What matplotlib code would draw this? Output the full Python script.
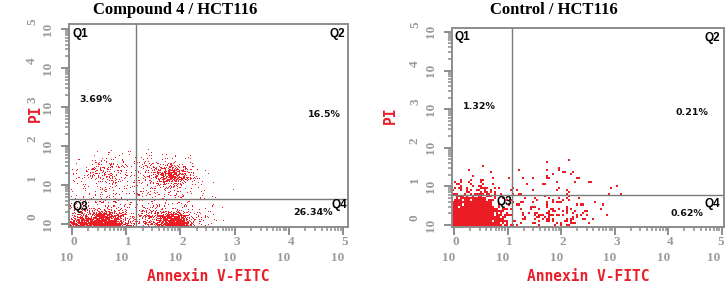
import numpy as np
import matplotlib
matplotlib.use('Agg')
import matplotlib.pyplot as plt
from matplotlib.colors import ListedColormap

# dot density, 0 (empty) .. 9 (solid red)
# columns: Annexin V-FITC decades, rows: PI decades (bottom row first)
x_centres = [0.0, 0.2, 0.4, 0.6, 0.8, 1.0, 1.2, 1.4, 1.6, 1.8, 2.0, 2.2, 2.4, 2.6, 2.8, 3.0, 3.2, 3.4]
y_centres = [0.0, 0.2, 0.4, 0.6, 0.8, 1.0, 1.2, 1.4, 1.6, 1.8]

compound_density = [
    [7, 8, 9, 9, 8, 3, 1.5, 2.5, 5, 9, 9, 3, 0.8, 0.4, 0.1, 0, 0, 0],
    [2, 4, 7, 8, 5, 1.5, 1.5, 2.5, 5, 8, 8, 1.5, 0.4, 0.3, 0.1, 0, 0, 0],
    [0.8, 1, 1.5, 1.5, 1.5, 1, 1, 1.5, 1.5, 2, 1.5, 0.5, 0.3, 0.2, 0, 0, 0, 0],
    [0.4, 0.6, 0.7, 1, 0.7, 0.6, 0.7, 1, 1, 1, 0.8, 0.3, 0.2, 0.1, 0, 0, 0, 0],
    [0.4, 0.4, 0.6, 0.8, 0.7, 0.5, 0.7, 0.8, 1, 1.2, 1, 0.4, 0.2, 0.1, 0, 0, 0, 0],
    [0.4, 0.6, 0.8, 1.2, 1, 0.7, 0.8, 1.2, 2, 3, 3, 0.8, 0.3, 0.2, 0.1, 0, 0, 0],
    [0.4, 0.8, 2, 3, 1.8, 0.8, 0.8, 1.5, 3.5, 8, 6, 1, 0.3, 0.1, 0, 0, 0, 0],
    [0.3, 0.6, 1.8, 2.5, 1.5, 0.6, 0.8, 1.5, 3, 5, 3, 0.5, 0.2, 0, 0, 0, 0, 0],
    [0.1, 0.3, 0.4, 0.6, 0.4, 0.3, 0.4, 0.6, 0.8, 0.8, 0.4, 0.1, 0, 0, 0, 0, 0, 0],
    [0, 0.1, 0.1, 0.2, 0.2, 0.1, 0.1, 0.2, 0.2, 0.2, 0.1, 0, 0, 0, 0, 0, 0, 0],
]

control_density = [
    [9, 9, 9, 9, 8, 4, 1.8, 1.8, 1.8, 2.2, 1.8, 1.2, 0.6, 0.3, 0.1, 0, 0, 0],
    [9, 9, 9, 9, 7, 3, 1.5, 1.5, 1.8, 2.8, 2.8, 1.8, 0.6, 0.3, 0.1, 0, 0, 0],
    [9, 9, 9, 9, 6, 2, 1.2, 1.2, 1.5, 2.2, 2.2, 1.5, 0.6, 0.3, 0.2, 0, 0, 0],
    [6, 8, 9, 7, 3, 1.2, 0.6, 0.6, 0.9, 1.1, 1.1, 0.9, 0.5, 0.3, 0.1, 0.1, 0, 0],
    [2.5, 3.5, 4, 3, 1.5, 0.8, 0.6, 0.6, 0.6, 0.9, 0.9, 0.6, 0.4, 0.3, 0.3, 0.2, 0.1, 0],
    [1, 1.8, 1.8, 1.2, 0.6, 0.4, 0.5, 0.5, 0.6, 0.6, 0.6, 0.5, 0.4, 0.3, 0.2, 0.1, 0, 0],
    [0.1, 0.3, 0.3, 0.3, 0.2, 0.1, 0.3, 0.3, 0.5, 0.6, 0.5, 0.6, 0.4, 0.3, 0.1, 0, 0, 0],
    [0, 0, 0.1, 0.1, 0.1, 0, 0.2, 0.2, 0.3, 0.5, 0.6, 0.5, 0.2, 0.1, 0, 0, 0, 0],
    [0, 0, 0, 0.1, 0.1, 0, 0.1, 0.1, 0.2, 0.2, 0.3, 0.2, 0.1, 0, 0, 0, 0, 0],
    [0, 0, 0, 0, 0, 0, 0, 0, 0, 0, 0, 0, 0, 0, 0, 0, 0, 0],
]

titles = ["Compound 4 / HCT116", "Control / HCT116"]
gates = [(1.18, 0.64), (1.08, 0.78)]      # (Annexin gate, PI gate) in decades
percents = [("3.69%", "16.5%", "26.34%"), ("1.32%", "0.21%", "0.62%")]
decades = [0, 1, 2, 3, 4, 5]

dot_red = '#ec1c24'
label_red = '#e8202a'
grey = '#8c8c8c'
tick_grey = '#9a9a9a'


def dot_raster(density, px_x, px_y, cell):
    """ Turns the density grid into a stippled raster, about one dot per screen pixel """
    d = np.array(density, dtype=float) / 9.0
    xc = np.array(x_centres)
    yc = np.array(y_centres)
    step_x = cell / px_x
    step_y = cell / px_y
    xs = np.arange(xc[0] - 0.12, xc[-1] + 0.1, step_x)
    ys = np.arange(yc[0] - 0.12, yc[-1] + 0.1, step_y)
    rows = np.array([np.interp(xs, xc, r) for r in d])
    fine = np.array([np.interp(ys, yc, c) for c in rows.T]).T
    j, i = np.mgrid[0:len(ys), 0:len(xs)]
    # dither threshold from a fixed hash of the pixel index
    mask = np.modf(np.abs(np.sin(12.9898 * i + 78.233 * j)) * 43758.5453)[0]
    img = (fine > mask).astype(float)
    extent = [xs[0], xs[-1] + step_x, ys[0], ys[-1] + step_y]
    return img, extent


def style_axes(ax, xlim, ylim, last_shift=0):
    ax.set_xlim(*xlim)
    ax.set_ylim(*ylim)
    minor = [d + np.log10(k) for d in decades[:-1] for k in range(2, 10)]
    ax.set_xticks(decades)
    ax.set_yticks(decades)
    ax.set_xticks(minor, minor=True)
    ax.set_yticks(minor, minor=True)
    ax.set_xticklabels([])
    ax.set_yticklabels([])
    ax.tick_params(which='both', direction='out', color=grey)
    ax.tick_params(which='major', length=5.5, width=1.4)
    ax.tick_params(which='minor', length=3, width=1.1)
    for s in ax.spines.values():
        s.set_color(grey)
        s.set_linewidth(1.4)
    font = dict(family='Liberation Serif', weight='bold', size=9.5, color=tick_grey)
    for d in decades:
        shift = last_shift if d == decades[-1] else 0
        ax.annotate('10', xy=(d, 0), xycoords=('data', 'axes fraction'),
                    xytext=(-5 + shift, -31), textcoords='offset pixels',
                    ha='center', va='center', **font)
        ax.annotate(str(d), xy=(d, 0), xycoords=('data', 'axes fraction'),
                    xytext=(2 + shift, -15), textcoords='offset pixels',
                    ha='center', va='center', **font)
        ax.annotate('10', xy=(0, d), xycoords=('axes fraction', 'data'),
                    xytext=(-21, 0), textcoords='offset pixels', rotation=90,
                    ha='center', va='center', **font)
        ax.annotate(str(d), xy=(0, d), xycoords=('axes fraction', 'data'),
                    xytext=(-37, 7), textcoords='offset pixels', rotation=90,
                    ha='center', va='center', **font)


fig = plt.figure(figsize=(7.25, 2.86), dpi=100)
ax1 = fig.add_axes([69 / 725, 59 / 286, 279 / 725, 203 / 286])
ax2 = fig.add_axes([452 / 725, 59 / 286, 272 / 725, 199 / 286])
cmap = ListedColormap([(1, 1, 1, 0), dot_red])

panels = [
    (ax1, compound_density, (-0.055, 5.09), (-0.077, 5.13), 54.2, 39.0, 1, 0),
    (ax2, control_density, (-0.037, 5.04), (-0.05, 5.10), 53.6, 38.6, 2, -3),
]
for n, (ax, dens, xlim, ylim, px_x, px_y, cell, last_shift) in enumerate(panels):
    img, extent = dot_raster(dens, px_x, px_y, cell)
    ax.imshow(img, origin='lower', extent=extent, aspect='auto', cmap=cmap,
              vmin=0, vmax=1, interpolation='nearest', zorder=1)
    gx, gy = gates[n]
    ax.axvline(gx, color='#7a7a7a', lw=1.0, zorder=2)
    ax.axhline(gy, color='#7a7a7a', lw=1.0, zorder=2)
    style_axes(ax, xlim, ylim, last_shift)
    ax.set_xlabel("Annexin V-FITC", family='DejaVu Sans Mono', weight='bold',
                  size=10.5, color=label_red, labelpad=21)

# quadrant names and percentages (axes fractions)
qfont = dict(family='Liberation Sans', weight='bold', size=8.5, color='black', va='center')
pfont = dict(family='DejaVu Sans', weight='bold', size=6.8, color='#111111', va='center')
t = ax1.transAxes
ax1.text(0.014, 0.951, "Q1", ha='left', transform=t, **qfont)
ax1.text(0.989, 0.951, "Q2", ha='right', transform=t, **qfont)
ax1.text(0.011, 0.098, "Q3", ha='left', transform=t, **qfont)
ax1.text(0.996, 0.108, "Q4", ha='right', transform=t, **qfont)
ax1.text(0.036, 0.626, percents[0][0], ha='left', transform=t, **pfont)
ax1.text(0.975, 0.552, percents[0][1], ha='right', transform=t, **pfont)
ax1.text(0.946, 0.069, percents[0][2], ha='right', transform=t, **pfont)

t = ax2.transAxes
ax2.text(0.011, 0.955, "Q1", ha='left', transform=t, **qfont)
ax2.text(0.985, 0.950, "Q2", ha='right', transform=t, **qfont)
ax2.text(0.165, 0.126, "Q3", ha='left', transform=t, **qfont)
ax2.text(0.985, 0.116, "Q4", ha='right', transform=t, **qfont)
ax2.text(0.040, 0.608, percents[1][0], ha='left', transform=t, **pfont)
ax2.text(0.941, 0.573, percents[1][1], ha='right', transform=t, **pfont)
ax2.text(0.923, 0.070, percents[1][2], ha='right', transform=t, **pfont)

# titles and PI labels
fig.text(175 / 725, 1 - 10 / 286, titles[0], family='Liberation Serif', weight='bold',
         size=12, ha='center', va='center')
fig.text(554 / 725, 1 - 10 / 286, titles[1], family='Liberation Serif', weight='bold',
         size=12, ha='center', va='center')
for x, y in [(35, 113), (390, 115)]:
    fig.text(x / 725, 1 - y / 286, "PI", family='DejaVu Sans Mono', weight='bold',
             size=10.5, color=label_red, rotation=90, ha='center', va='center')

fig.savefig('out.png', dpi=100)
